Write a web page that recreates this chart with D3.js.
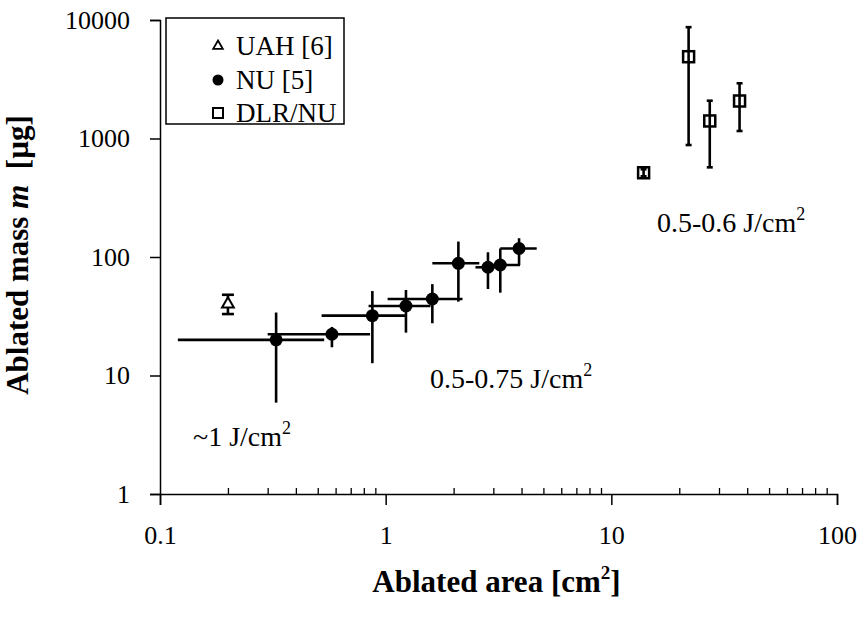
<!DOCTYPE html>
<html>
<head>
<meta charset="utf-8">
<script src="https://cdn.jsdelivr.net/npm/d3@7"></script>
<style>
body { margin: 0; background: #fff; }
svg text { font-family: "Liberation Serif", "Times New Roman", serif; fill: #000; }
</style>
</head>
<body>
<div id="chart"></div>
<script>
// data
var uahX = [0.2], uahY = [40], uahLo = [33], uahHi = [48];

var nuX   = [0.327, 0.578, 0.873, 1.23, 1.61, 2.10, 2.84, 3.22, 3.90];
var nuY   = [20, 22.3, 32, 38.6, 44.2, 88.5, 81.9, 85.6, 118];
var nuXLo = [0.12, 0.30, 0.52, 0.84, 1.02, 1.61, 2.5, 2.85, 3.22];
var nuXHi = [0.534, 0.853, 1.23, 1.58, 2.19, 2.6, 3.2, 3.94, 4.67];
var nuYLo = [5.9, 17.3, 12.7, 23, 27.6, 42, 53.7, 50, 85.6];
var nuYHi = [34, 25.7, 51.6, 52.7, 59, 135, 109.6, 118, 144];

var dlrX  = [13.9, 22.0, 27.3, 37.0];
var dlrY  = [514, 4900, 1406, 2072];
var dlrLo = [480, 881, 571, 1157];
var dlrHi = [550, 8700, 2084, 2924];

var xTicks = [0.1, 1, 10, 100];
var yTicks = [1, 10, 100, 1000, 10000];

var margin = {top: 20, right: 25, bottom: 124, left: 160},
    width = 862 - margin.left - margin.right,
    height = 618 - margin.top - margin.bottom;

var x = d3.scaleLog().domain([0.1, 100]).range([0, width]);
var y = d3.scaleLog().domain([1, 10000]).range([height, 0]);

var svg = d3.select("#chart").append("svg")
    .attr("width", 862)
    .attr("height", 618)
  .append("g")
    .attr("transform", "translate(" + margin.left + "," + margin.top + ")");

// minor x ticks (pointing up)
var minors = [];
[0.1, 1, 10].forEach(function(d) {
  for (var k = 2; k <= 9; k++) minors.push(d * k);
});
svg.append("g")
    .attr("transform", "translate(0," + height + ")")
    .call(d3.axisBottom(x).tickValues(minors).tickSize(-6).tickFormat(""))
    .call(function(g) { g.select(".domain").remove(); })
    .selectAll("line").attr("stroke-width", 1.3);

// x axis
var xAxis = svg.append("g")
    .attr("transform", "translate(0," + height + ")")
    .call(d3.axisBottom(x).tickValues(xTicks).tickSizeOuter(0).tickSize(11).tickPadding(16)
      .tickFormat(function(d) { return d; }));
xAxis.select(".domain").attr("stroke-width", 1.5);
xAxis.selectAll("line").attr("stroke-width", 1.5);
xAxis.selectAll("text").style("font-size", "26px").attr("dy", "0.9em");

// y axis
var yAxis = svg.append("g")
    .call(d3.axisLeft(y).tickValues(yTicks).tickSizeOuter(0).tickSize(10).tickPadding(20)
      .tickFormat(function(d) { return d; }));
yAxis.select(".domain").attr("stroke-width", 1.5);
yAxis.selectAll("line").attr("stroke-width", 1.5);
yAxis.selectAll("text").style("font-size", "26px");

// axis titles
svg.append("text")
    .attr("x", (width / 2) - 2)
    .attr("y", height + 98)
    .attr("text-anchor", "middle")
    .style("font-size", "31px")
    .style("font-weight", "bold")
    .html('Ablated area [cm<tspan dy="-13" style="font-size:19px">2</tspan><tspan dy="13">]</tspan>');

svg.append("text")
    .attr("transform", "translate(" + (-132) + "," + (height / 2 - 2) + ")rotate(-90)")
    .attr("text-anchor", "middle")
    .style("font-size", "31px")
    .style("font-weight", "bold")
    .html('Ablated mass <tspan font-style="italic">m</tspan>\u00a0\u00a0[\u00b5g]');

function line(x1, y1, x2, y2) {
  svg.append("line").attr("x1", x1).attr("y1", y1).attr("x2", x2).attr("y2", y2)
    .attr("stroke", "#000").attr("stroke-width", 2.6);
}

// NU error bars and points
nuX.forEach(function(d, i) {
  line(x(nuXLo[i]), y(nuY[i]), x(nuXHi[i]), y(nuY[i]));
  line(x(d), y(nuYLo[i]), x(d), y(nuYHi[i]));
});
svg.selectAll(".nu")
    .data(nuX)
    .enter().append("circle")
    .attr("class", "nu")
    .attr("cx", function(d) { return x(d); })
    .attr("cy", function(d, i) { return y(nuY[i]); })
    .attr("r", 6.5)
    .attr("fill", "#000");

// UAH
uahX.forEach(function(d, i) {
  line(x(d), y(uahLo[i]), x(d), y(uahHi[i]));
  line(x(d) - 6, y(uahLo[i]), x(d) + 6, y(uahLo[i]));
  line(x(d) - 6, y(uahHi[i]), x(d) + 6, y(uahHi[i]));
});
svg.selectAll(".uah")
    .data(uahX)
    .enter().append("path")
    .attr("class", "uah")
    .attr("d", d3.symbol().type(d3.symbolTriangle).size(60))
    .attr("transform", function(d, i) { return "translate(" + x(d) + "," + y(uahY[i]) + ")"; })
    .attr("fill", "#fff").attr("stroke", "#000").attr("stroke-width", 2);

// DLR/NU
dlrX.forEach(function(d, i) {
  line(x(d), y(dlrLo[i]), x(d), y(dlrHi[i]));
  line(x(d) - 3, y(dlrLo[i]), x(d) + 3, y(dlrLo[i]));
  line(x(d) - 3, y(dlrHi[i]), x(d) + 3, y(dlrHi[i]));
});
svg.selectAll(".dlr")
    .data(dlrX)
    .enter().append("rect")
    .attr("class", "dlr")
    .attr("x", function(d) { return x(d) - 5.5; })
    .attr("y", function(d, i) { return y(dlrY[i]) - 5.5; })
    .attr("width", 11).attr("height", 11)
    .attr("fill", "none").attr("stroke", "#000").attr("stroke-width", 2.5);

// annotations
function label(tx, ty, txt) {
  svg.append("text")
      .attr("x", tx - margin.left).attr("y", ty - margin.top)
      .style("font-size", "28px")
      .html(txt + ' J/cm<tspan dy="-12" style="font-size:18px">2</tspan>');
}
label(193, 446, "~1");
label(430, 388, "0.5-0.75");
label(657, 232, "0.5-0.6");

// legend
var lg = d3.select("svg").append("g");
lg.append("rect").attr("x", 166).attr("y", 18).attr("width", 178).attr("height", 106)
    .attr("fill", "#fff").attr("stroke", "#000").attr("stroke-width", 1.5);
var names = ["UAH [6]", "NU [5]", "DLR/NU"];
var ly = [46, 80, 113];
names.forEach(function(n, i) {
  lg.append("text").attr("x", 236).attr("y", ly[i] + 9).style("font-size", "27px").text(n);
});
lg.append("path").attr("d", d3.symbol().type(d3.symbolTriangle).size(40))
    .attr("transform", "translate(218," + ly[0] + ")")
    .attr("fill", "#fff").attr("stroke", "#000").attr("stroke-width", 1.8);
lg.append("circle").attr("cx", 218).attr("cy", ly[1]).attr("r", 5.5).attr("fill", "#000");
lg.append("rect").attr("x", 213).attr("y", ly[2] - 5).attr("width", 10).attr("height", 10)
    .attr("fill", "none").attr("stroke", "#000").attr("stroke-width", 2);
</script>
</body>
</html>
